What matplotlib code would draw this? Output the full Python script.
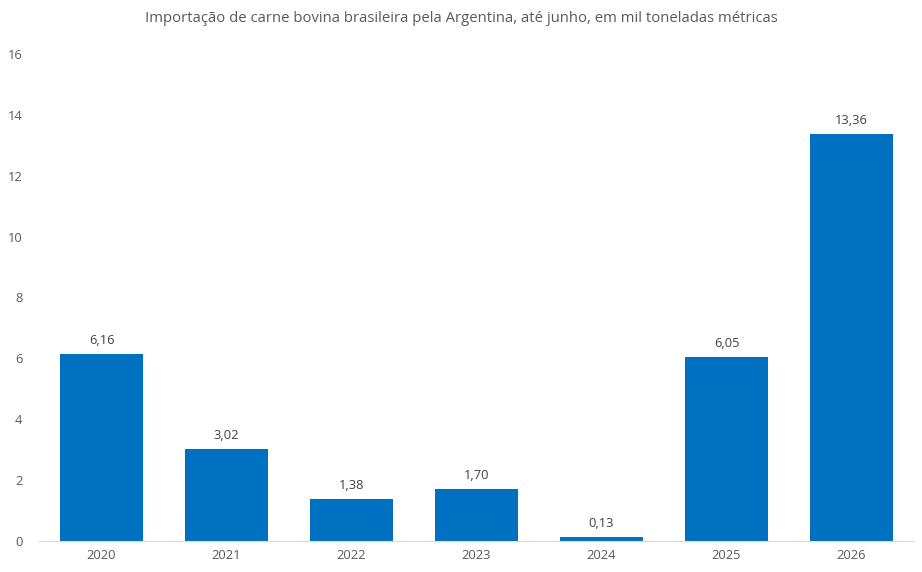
import matplotlib
matplotlib.use("Agg")
import matplotlib.pyplot as plt

YEARS = ["2020", "2021", "2022", "2023", "2024", "2025", "2026"]
VALUES = [6.16, 3.02, 1.38, 1.70, 0.13, 6.05, 13.36]
LABELS = ["6,16", "3,02", "1,38", "1,70", "0,13", "6,05", "13,36"]
TITLE = "Importação de carne bovina brasileira pela Argentina, até junho, em mil toneladas métricas"

BAR_COLOR = "#0070C0"
TEXT_COLOR = "#595959"

plt.rcParams["font.family"] = ["Open Sans", "DejaVu Sans"]

fig = plt.figure(figsize=(9.22, 5.72), dpi=100)
ax = fig.add_axes([39 / 922, 31 / 572, 875 / 922, 487 / 572])

x = range(len(YEARS))
bars = ax.bar(x, VALUES, width=0.66, color=BAR_COLOR)
for bar, lab in zip(bars, LABELS):
    ax.annotate(lab, (bar.get_x() + bar.get_width() / 2, bar.get_height()),
                xytext=(0, 5), textcoords="offset points", ha="center", va="bottom",
                fontsize=9.3, color="#404040")

ax.set_xlim(-0.5, 6.5)
ax.set_ylim(0, 16)
ax.set_yticks(range(0, 17, 2))
ax.set_xticks(list(x))
ax.set_xticklabels(YEARS)
ax.tick_params(axis="both", length=0, labelsize=9.3, colors=TEXT_COLOR)
ax.tick_params(axis="y", pad=12)
ax.tick_params(axis="x", pad=6)
for s in ["top", "right", "left"]:
    ax.spines[s].set_visible(False)
ax.spines["bottom"].set_color("#D9D9D9")

fig.text(0.5, 1 - 18 / 572, TITLE, ha="center", va="center", fontsize=10.7, color=TEXT_COLOR)

fig.savefig("out.png", dpi=100)
